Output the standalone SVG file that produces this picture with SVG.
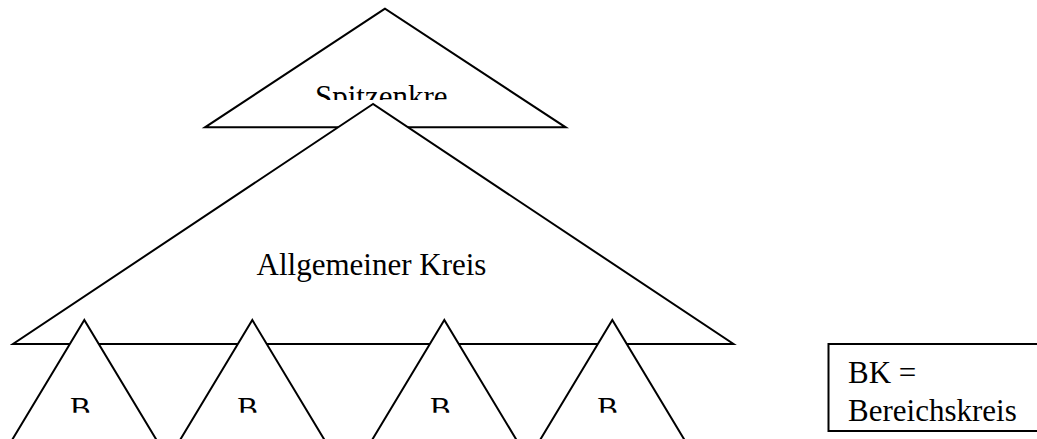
<svg xmlns="http://www.w3.org/2000/svg" width="1037" height="439" viewBox="0 0 1037 439">
<style>
.tri{fill:#fff;stroke:#000;stroke-width:2;stroke-linejoin:miter}
.lbl{font-family:"Liberation Serif","Times New Roman",serif;font-size:31px;fill:#000}
</style>
<defs>
<clipPath id="clipTop"><rect x="0" y="0" width="1037" height="100"/></clipPath>
<clipPath id="clipB"><rect x="0" y="0" width="1037" height="412.7"/></clipPath>
</defs>
<rect width="1037" height="439" fill="#fff"/>
<g id="spitzenkreis">
<polygon class="tri" points="385,8.7 205,127.3 565.7,127.3"/>
<text class="lbl" x="315" y="107" clip-path="url(#clipTop)">Spitzenkre</text>
</g>
<g id="allgemeiner-kreis">
<polygon class="tri" points="373,104 13,344 733.5,344"/>
<text class="lbl" x="371.5" y="275" text-anchor="middle">Allgemeiner Kreis</text>
</g>
<g id="bk1">
<polygon class="tri" points="84.3,320 0,460 168.6,460"/>
<text class="lbl" x="70" y="419" clip-path="url(#clipB)">B</text>
</g>
<g id="bk2">
<polygon class="tri" points="252.3,320 168,460 336.6,460"/>
<text class="lbl" x="237.3" y="419" clip-path="url(#clipB)">B</text>
</g>
<g id="bk3">
<polygon class="tri" points="444.3,320 360,460 528.6,460"/>
<text class="lbl" x="430" y="419" clip-path="url(#clipB)">B</text>
</g>
<g id="bk4">
<polygon class="tri" points="612.3,320 528,460 696.6,460"/>
<text class="lbl" x="597.3" y="419" clip-path="url(#clipB)">B</text>
</g>
<g id="legend">
<rect x="828.5" y="344" width="220" height="87" fill="#fff" stroke="#000" stroke-width="2"/>
<text class="lbl" x="848" y="383.3">BK =</text>
<text class="lbl" x="848" y="421">Bereichskreis</text>
</g>
<g id="connectors"></g>
</svg>
